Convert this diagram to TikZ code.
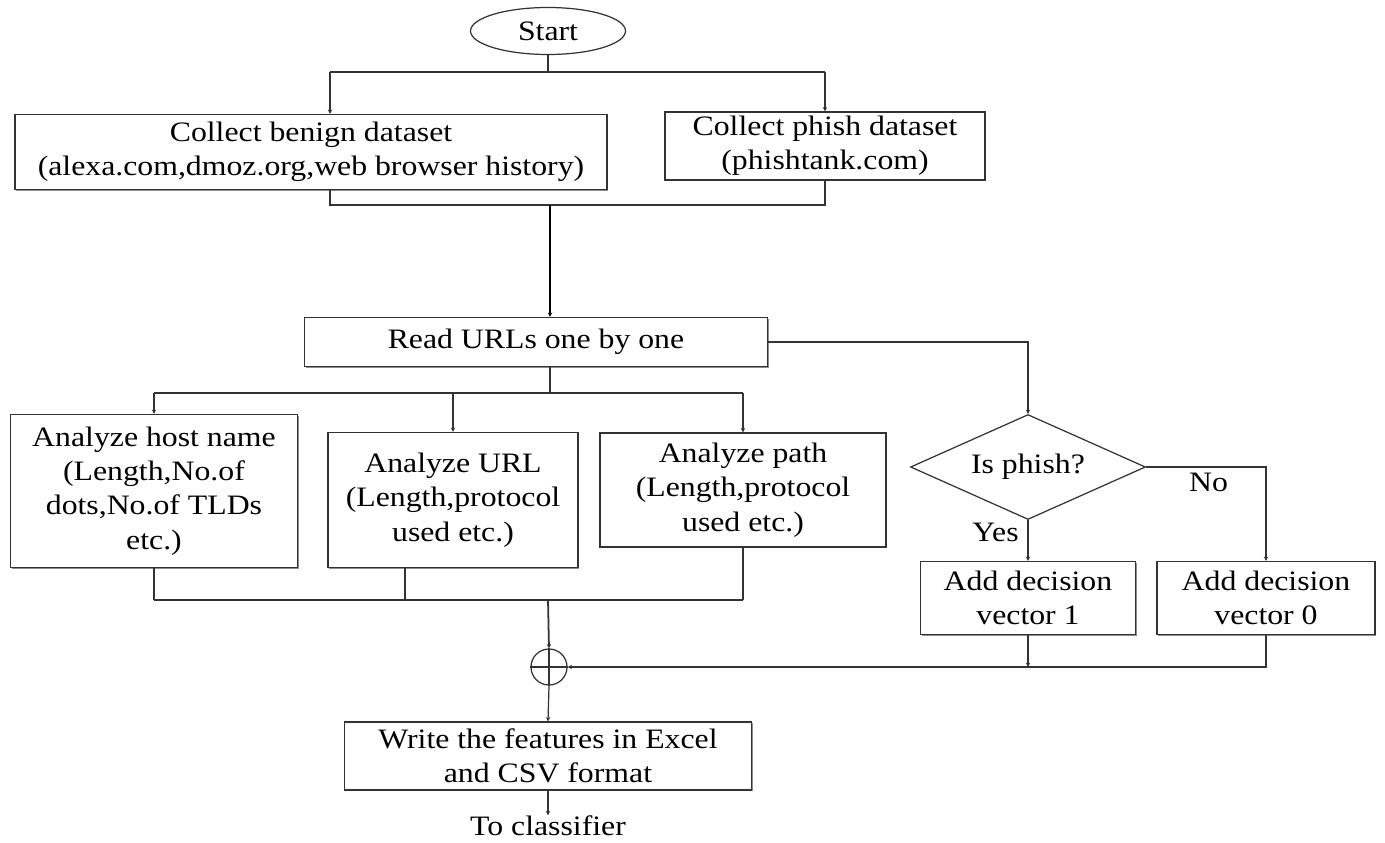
\documentclass[tikz,border=0pt]{standalone}
\usepackage{fontspec}
\setmainfont{Liberation Serif}[FakeStretch=1.13]
\usetikzlibrary{arrows.meta,shapes.geometric,shadows}

\begin{document}
\begin{tikzpicture}[
    x=0.2mm, y=-0.2mm,
    font=\fontsize{16}{19.5}\selectfont,
    line width=0.7pt,
    draw=black!80,
    box/.style={
        draw=black!80,
        fill=white,
        align=center,
        inner sep=2pt,
        drop shadow={shadow xshift=0.7pt, shadow yshift=-0.7pt, fill=black!45, opacity=1}
    },
    flow/.style={
        draw=black!80,
        -{Stealth[length=2.5pt,width=2.5pt]}
    },
    link/.style={
        draw=black!80
    }
]

\useasboundingbox (0,0) rectangle (1385,843);

% blocks
\node[draw=black!80, ellipse, minimum width=31mm, minimum height=9.4mm, inner sep=0pt] (start) at (548,31) {Start};

\node[box, minimum width=118.4mm, minimum height=15mm] (benign) at (311,152)
    {Collect benign dataset\\(alexa.com,dmoz.org,web browser history)};
\node[box, minimum width=64mm, minimum height=13.6mm] (phish) at (825,146)
    {Collect phish dataset\\(phishtank.com)};

\node[box, minimum width=92.6mm, minimum height=9.8mm] (read) at (536,342) {Read URLs one by one};

\node[box, minimum width=57.4mm, minimum height=30.6mm] (host) at (154,491)
    {Analyze host name\\(Length,No.of\\dots,No.of TLDs\\etc.)};
\node[box, minimum width=50mm, minimum height=27mm] (url) at (453,500)
    {Analyze URL\\(Length,protocol\\used etc.)};
\node[box, minimum width=57.2mm, minimum height=22.8mm] (path) at (743,490)
    {Analyze path\\(Length,protocol\\used etc.)};

\node[draw=black!80, diamond, aspect=2.3, minimum width=47mm, minimum height=21mm, inner sep=-4pt] (phishq) at (1028,467) {Is phish?};
\node[box, minimum width=43mm, minimum height=14.6mm] (vecone) at (1028,598)
    {Add decision\\vector 1};
\node[box, minimum width=43.6mm, minimum height=14.6mm] (veczero) at (1266,598)
    {Add decision\\vector 0};

\node[draw=black!80, circle, minimum size=7.2mm, inner sep=0pt] (sum) at (549,667) {};
\draw[link] (sum.north) -- (sum.south) (sum.west) -- (sum.east);

\node[box, minimum width=81.4mm, minimum height=13.6mm] (write) at (548,756)
    {Write the features in Excel\\and CSV format};
\node[inner sep=0pt] (classifier) at (548,826) {To classifier};

% joints
\coordinate (splitL) at (330,72);
\coordinate (splitR) at (825,72);
\coordinate (joinL) at (330,205);
\coordinate (joinR) at (825,205);
\coordinate (joinM) at (550,205);
\coordinate (fork) at (550,393);
\coordinate (merge) at (548,600);
\coordinate (urldrop) at (405,600);

% connectors
\draw[link] (start) -- (start |- splitL);
\draw[link] (splitL) -- (splitR);
\draw[flow] (splitL) -- (splitL |- benign.north);
\draw[flow] (splitR) -- (phish.north);

\draw[link] (splitL |- benign.south) -- (joinL) -- (joinR) -- (phish.south);
\draw[flow, draw=black, line width=1.2pt] (joinM) -- (joinM |- read.north);

\draw[link] (joinM |- read.south) -- (fork);
\draw[link] (host.north |- fork) -- (path.north |- fork);
\draw[flow] (host.north |- fork) -- (host.north);
\draw[flow] (url.north |- fork) -- (url.north);
\draw[flow] (path.north |- fork) -- (path.north);

\draw[link] (host.south) -- (host.south |- merge);
\draw[link] (urldrop |- url.south) -- (urldrop);
\draw[link] (path.south) -- (path.south |- merge);
\draw[link, line width=1.1pt] (host.south |- merge) -- (path.south |- merge);
\draw[flow, line width=1pt] (merge) -- (sum.north);

\draw[flow] (sum.south) -- (write.north);
\draw[flow] (write.south) -- (classifier.north);

\draw[flow] (read.east) -| (phishq.north);
\draw[flow] (phishq.south) -- node[pos=0.3, left, inner sep=5pt] {Yes} (vecone.north);
\draw[flow] (phishq.east) -| node[pos=0.26, below, inner sep=3pt] {No} (veczero.north);

\draw[flow] (vecone.south) -- (vecone.south |- sum.east);
\draw[flow] (veczero.south) |- (sum.east);

\end{tikzpicture}
\end{document}
